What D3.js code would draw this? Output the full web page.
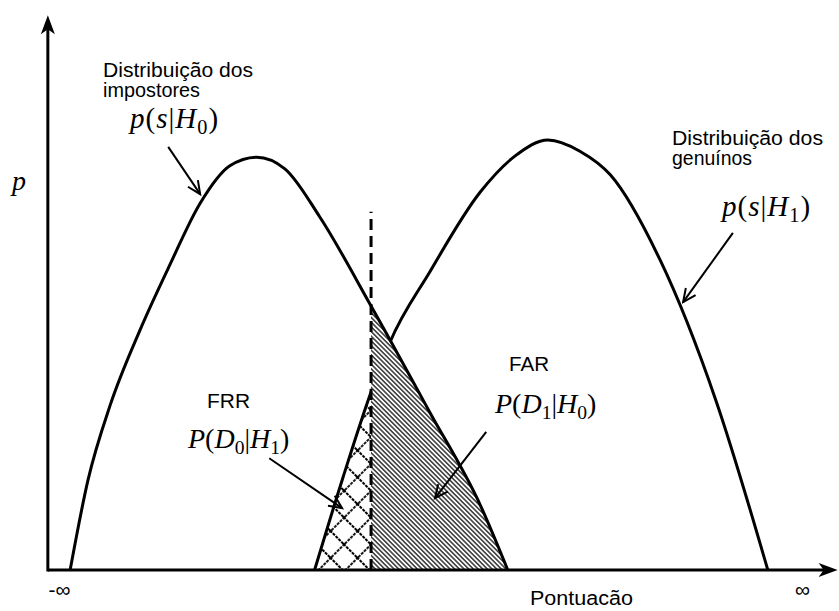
<!DOCTYPE html>
<html lang="pt">
<head>
<meta charset="utf-8">
<title>Distribuições de pontuação</title>
<script src="https://cdn.jsdelivr.net/npm/d3@7"></script>
<style>
  body { margin: 0; background: #fff; }
  .lbl { font-family: "Liberation Sans", Arial, sans-serif; font-size: 20px; fill: #000; }
  .math { font-family: "Liberation Serif", "Times New Roman", serif; fill: #000; }
  .curve { fill: none; stroke: #000; stroke-width: 3; }
</style>
</head>
<body>
<script>
const w = 839, h = 611;

// impostor distribution p(s|H0): score vs density
const impostorScore   = [1.5, 3.9, 6.9, 10.9, 14.9, 19, 23, 26.6, 30.4, 35.1, 42, 49.9, 56.7, 60.4];
const impostorDensity = [0, 0.209, 0.384, 0.558, 0.709, 0.853, 0.94, 0.96, 0.933, 0.821, 0.614, 0.367, 0.151, 0];

// genuine distribution p(s|H1)
const genuineScore   = [34.4, 38.2, 42, 44.5, 49.9, 56.7, 61.4, 65.8, 70.1, 74.2, 80.9, 88.4, 95.4];
const genuineDensity = [0, 0.214, 0.414, 0.528, 0.693, 0.879, 0.963, 1, 0.974, 0.919, 0.721, 0.395, 0];

// decision threshold
const threshold = 42;
const thresholdTop = 0.833;

// x ticks
const tickValues = [0, 100];
const tickLabels = ["-∞", "∞"];

const impostor = impostorScore.map((s, i) => [s, impostorDensity[i]]);
const genuine = genuineScore.map((s, i) => [s, genuineDensity[i]]);

const svg = d3.select("body").append("svg")
  .attr("width", w).attr("height", h);

const xScale = d3.scaleLinear().domain([0, 100]).range([59, 802]);
const yScale = d3.scaleLinear().domain([0, 1]).range([570, 140]);

const defs = svg.append("defs");

// fine diagonal hatch (FAR)
const diag = defs.append("pattern").attr("id", "diag")
  .attr("patternUnits", "userSpaceOnUse")
  .attr("width", 3.3).attr("height", 3.3)
  .attr("patternTransform", "rotate(-45)");
diag.append("rect").attr("width", 3.3).attr("height", 3.3).attr("fill", "#fff");
diag.append("line").attr("x1", 1.65).attr("x2", 1.65).attr("y1", 0).attr("y2", 3.3)
  .attr("stroke", "#000").attr("stroke-width", 1.2);

// diamond cross hatch (FRR)
const cs = 19;
const cross = defs.append("pattern").attr("id", "cross")
  .attr("patternUnits", "userSpaceOnUse")
  .attr("width", cs).attr("height", cs)
  .attr("patternTransform", "translate(371,570) rotate(45)");
cross.append("rect").attr("width", cs).attr("height", cs).attr("fill", "#fff");
cross.append("path").attr("d", "M0,1H" + cs + "M1,0V" + cs)
  .attr("stroke", "#000").attr("stroke-width", 1.8).attr("stroke-dasharray", "3,1");

defs.append("clipPath").attr("id", "clipLeft").append("rect")
  .attr("x", 0).attr("y", 0).attr("width", xScale(threshold)).attr("height", yScale(0));
defs.append("clipPath").attr("id", "clipRight").append("rect")
  .attr("x", xScale(threshold)).attr("y", 0).attr("width", w).attr("height", yScale(0));

// arrow heads
defs.append("marker").attr("id", "head")
  .attr("viewBox", "-15 -8 17 16").attr("refX", 0).attr("refY", 0)
  .attr("markerWidth", 17).attr("markerHeight", 16)
  .attr("markerUnits", "userSpaceOnUse").attr("orient", "auto")
  .append("path").attr("d", "M-13,-6L0,0L-13,6")
  .attr("fill", "none").attr("stroke", "#000").attr("stroke-width", 2);

defs.append("marker").attr("id", "axhead")
  .attr("viewBox", "-20 -8 22 16").attr("refX", -8).attr("refY", 0)
  .attr("markerWidth", 22).attr("markerHeight", 16)
  .attr("markerUnits", "userSpaceOnUse").attr("orient", "auto")
  .append("path").attr("d", "M0,0L-19,-7L-14,0L-19,7Z").attr("fill", "#000");

const line = d3.line()
  .x(d => xScale(d[0])).y(d => yScale(d[1]))
  .curve(d3.curveMonotoneX);
const area = d3.area()
  .x(d => xScale(d[0])).y0(yScale(0)).y1(d => yScale(d[1]))
  .curve(d3.curveMonotoneX);

// FRR region: genuine below threshold
svg.append("path").attr("d", area(genuine))
  .attr("fill", "url(#cross)").attr("clip-path", "url(#clipLeft)");

svg.append("path").attr("class", "curve").attr("d", line(genuine));

// FAR region: impostor above threshold (covers genuine curve there)
svg.append("path").attr("d", area(impostor))
  .attr("fill", "url(#diag)").attr("clip-path", "url(#clipRight)");

svg.append("path").attr("class", "curve").attr("d", line(impostor));

// threshold
svg.append("line")
  .attr("x1", xScale(threshold)).attr("x2", xScale(threshold))
  .attr("y1", yScale(0)).attr("y2", yScale(thresholdTop))
  .attr("stroke", "#000").attr("stroke-width", 3)
  .attr("stroke-dasharray", "11,6");

// axes
svg.append("line")
  .attr("x1", xScale(-1.5)).attr("x2", xScale(104.8) - 8)
  .attr("y1", yScale(0)).attr("y2", yScale(0))
  .attr("stroke", "#000").attr("stroke-width", 3)
  .attr("marker-end", "url(#axhead)");
svg.append("line")
  .attr("x1", xScale(-1.5)).attr("x2", xScale(-1.5))
  .attr("y1", yScale(0) + 1.5).attr("y2", yScale(1.29) + 8)
  .attr("stroke", "#000").attr("stroke-width", 3)
  .attr("marker-end", "url(#axhead)");

const xAxis = d3.axisBottom(xScale)
  .tickValues(tickValues)
  .tickSize(0)
  .tickFormat((d, i) => tickLabels[i]);
const gx = svg.append("g")
  .attr("transform", "translate(0," + yScale(0) + ")")
  .call(xAxis);
gx.select(".domain").remove();
gx.selectAll("text")
  .attr("y", 27).attr("dy", 0)
  .attr("font-family", "Liberation Sans, Arial, sans-serif")
  .attr("font-size", 21).attr("fill", "#000");

// annotation arrows (score, density)
const arrows = [
  [[14.7, 0.984], [19, 0.874]],
  [[90.7, 0.784], [84, 0.623]],
  [[28.3, 0.26], [38.1, 0.144]],
  [[57.5, 0.321], [50.6, 0.167]]
];
arrows.forEach(a => {
  svg.append("line")
    .attr("x1", xScale(a[0][0])).attr("y1", yScale(a[0][1]))
    .attr("x2", xScale(a[1][0])).attr("y2", yScale(a[1][1]))
    .attr("stroke", "#000").attr("stroke-width", 2)
    .attr("marker-end", "url(#head)");
});

// plain labels
const labels = [
  { t: "Distribuição dos", x: 103, y: 77, len: 150 },
  { t: "impostores", x: 103, y: 97, len: 97 },
  { t: "Distribuição dos", x: 672, y: 145, len: 151 },
  { t: "genuínos", x: 672, y: 165, len: 80 },
  { t: "FRR", x: 207, y: 408, len: 43 },
  { t: "FAR", x: 509, y: 371, len: 40 },
  { t: "Pontuacão", x: 530, y: 605, len: 103 }
];
labels.forEach(l => {
  svg.append("text").attr("class", "lbl")
    .attr("x", l.x).attr("y", l.y)
    .attr("textLength", l.len).attr("lengthAdjust", "spacingAndGlyphs")
    .text(l.t);
});

// math labels
function mathLabel(x, y, size, parts, spacing) {
  const t = svg.append("text").attr("class", "math")
    .attr("x", x).attr("y", y).attr("font-size", size)
    .attr("letter-spacing", spacing || 0);
  let shifted = 0;
  parts.forEach(p => {
    const dy = p.sub ? 6 - shifted : -shifted;
    shifted = p.sub ? 6 : 0;
    const s = t.append("tspan").attr("dy", dy).text(p.t);
    if (p.it) s.attr("font-style", "italic");
    if (p.sub) s.attr("font-size", size * 0.7);
  });
}

mathLabel(130, 128, 29, [
  { t: "p", it: true }, { t: "(" }, { t: "s", it: true }, { t: "|" },
  { t: "H", it: true }, { t: "0", sub: true }, { t: ")" }
], 1);
mathLabel(722, 216, 29, [
  { t: "p", it: true }, { t: "(" }, { t: "s", it: true }, { t: "|" },
  { t: "H", it: true }, { t: "1", sub: true }, { t: ")" }
], 1);
mathLabel(188, 448, 28, [
  { t: "P", it: true }, { t: "(" }, { t: "D", it: true }, { t: "0", sub: true },
  { t: "|" }, { t: "H", it: true }, { t: "1", sub: true }, { t: ")" }
]);
mathLabel(495, 413, 28, [
  { t: "P", it: true }, { t: "(" }, { t: "D", it: true }, { t: "1", sub: true },
  { t: "|" }, { t: "H", it: true }, { t: "0", sub: true }, { t: ")" }
]);
mathLabel(12, 190, 28, [{ t: "p", it: true }]);
</script>
</body>
</html>
